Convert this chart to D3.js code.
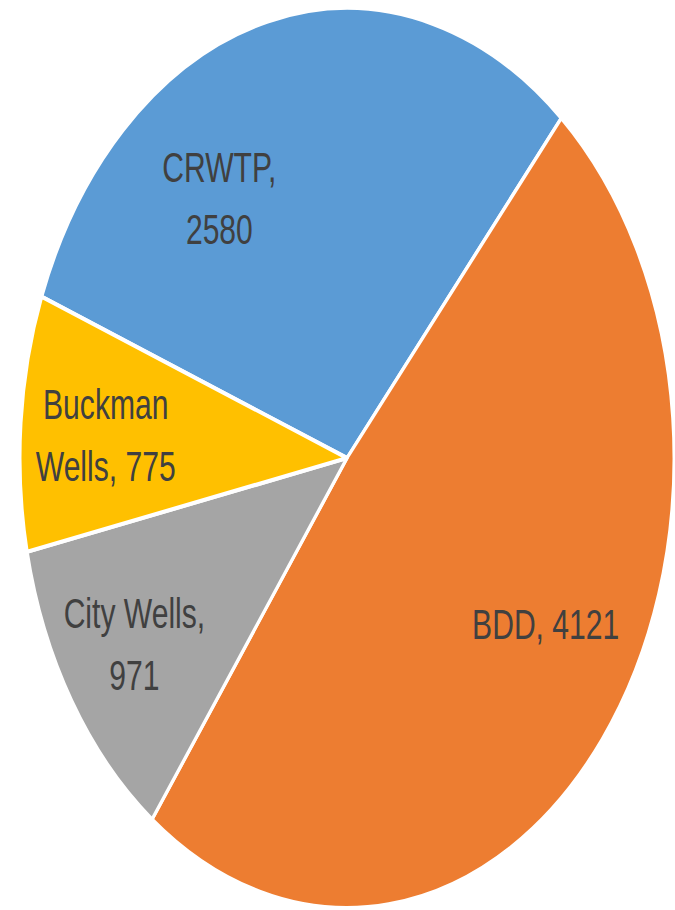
<!DOCTYPE html>
<html>
<head>
<meta charset="utf-8">
<script src="https://cdn.jsdelivr.net/npm/d3@7"></script>
<style>
    html, body { margin: 0; padding: 0; background: #fff; }
    .slice-label { font-family: 'Liberation Sans', Arial, sans-serif; fill: #404040; }
</style>
</head>
<body>
<svg id="chart" width="675" height="910"></svg>
<script>
// data
const categories = ['CRWTP', 'BDD', 'City Wells', 'Buckman Wells']
const values = [2580, 4121, 971, 775]
const colors = ['#5B9BD5', '#ED7D31', '#A5A5A5', '#FFC000']

// layout
const width = 675
const height = 910
const cx = 347
const cy = 458
const radius = 327
const stretch = 1.376 // the chart is squashed into an ellipse
const startDeg = -69
const labelRadius = 242
const fontSize = 35
const textScaleX = 0.86 // narrow the font to a Calibri-like width
const textScaleY = 1.24
const lineHeight = 62
const capHeight = 31
const wrapWidth = 160
// best-fit shifts for labels, page px
const labelNudge = {
    'CRWTP': [-69, 63],
    'BDD': [10, -43],
    'City Wells': [-9, 6],
    'Buckman Wells': [0, 3]
}

const data = categories.map((name, i) => ({ name, value: values[i], color: colors[i] }))

const svg = d3.select('#chart')
    .attr('width', width)
    .attr('height', height)

const pie = d3.pie()
    .sort(null)
    .value(d => d.value)
    .startAngle(startDeg * Math.PI / 180)
    .endAngle(startDeg * Math.PI / 180 + 2 * Math.PI)

const arcs = pie(data)

const arc = d3.arc()
    .innerRadius(0)
    .outerRadius(radius)

const labelArc = d3.arc()
    .innerRadius(labelRadius)
    .outerRadius(labelRadius)

const gPie = svg.append('g')
    .attr('class', 'g-pie')
    .attr('transform', `translate(${cx},${cy}) scale(1,${stretch})`)

gPie.selectAll('path')
    .data(arcs)
    .join('path')
    .attr('d', arc)
    .attr('fill', d => d.data.color)
    .attr('stroke', '#fff')
    .attr('stroke-width', 3)
    .attr('stroke-linejoin', 'round')

// split label text into lines that fit wrapWidth
function wrapLines (text) {
    const probe = svg.append('text')
        .attr('class', 'slice-label')
        .attr('font-size', fontSize)
    const words = text.split(' ')
    const lines = []
    let line = []
    words.forEach(w => {
        line.push(w)
        probe.text(line.join(' '))
        if (probe.node().getComputedTextLength() * textScaleX > wrapWidth && line.length > 1) {
            line.pop()
            lines.push(line.join(' '))
            line = [w]
        }
    })
    lines.push(line.join(' '))
    probe.remove()
    return lines
}

const gLabels = svg.append('g').attr('class', 'g-labels')

arcs.forEach(d => {
    const [lx, ly] = labelArc.centroid(d)
    const nudge = labelNudge[d.data.name] || [0, 0]
    const px = cx + lx + nudge[0]
    const py = cy + ly * stretch + nudge[1]
    const lines = wrapLines(`${d.data.name}, ${d.data.value}`)
    const firstBase = py - (lines.length - 1) * lineHeight / 2 + capHeight / 2

    const t = gLabels.append('text')
        .attr('class', 'slice-label')
        .attr('font-size', fontSize)
        .attr('text-anchor', 'middle')
        .attr('transform', `translate(${px},${firstBase}) scale(${textScaleX},${textScaleY})`)

    lines.forEach((ln, i) => {
        t.append('tspan')
            .attr('x', 0)
            .attr('y', i * lineHeight / textScaleY)
            .text(ln)
    })
})
</script>
</body>
</html>
